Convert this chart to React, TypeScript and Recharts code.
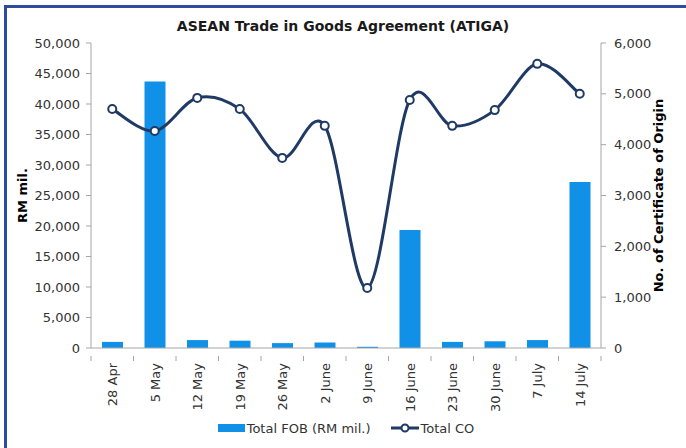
import React from 'react';
import { ComposedChart, Bar, Line, XAxis, YAxis, Legend } from 'recharts';

const weeks = ['28 Apr', '5 May', '12 May', '19 May', '26 May', '2 June', '9 June', '16 June', '23 June', '30 June', '7 July', '14 July'];
const totalFob = [1000, 43700, 1300, 1200, 800, 900, 200, 19350, 1000, 1100, 1300, 27200];
const totalCo = [4700, 4270, 4920, 4700, 3740, 4370, 1180, 4880, 4370, 4680, 5590, 5000];
const leftTicks = [0, 5000, 10000, 15000, 20000, 25000, 30000, 35000, 40000, 45000, 50000];
const rightTicks = [0, 1000, 2000, 3000, 4000, 5000, 6000];

const data = weeks.map((week, i) => ({ week, fob: totalFob[i], co: totalCo[i] }));

const BAR = '#1190e8';
const NAVY = '#1f3a64';
const AXIS = '#a6a6a6';
const TEXT = '#333333';
const FONT = '"DejaVu Sans", sans-serif';

const W = 686;
const H = 448;
const MARGIN = { top: 43, right: 25, left: 31, bottom: 8 };
const Y_W = 60;
const PLOT_W = W - MARGIN.left - MARGIN.right - 2 * Y_W;
const BAND = PLOT_W / weeks.length;

// excel style smoothing: catmull-rom as bezier segments
const excelSmooth = (context: any) => {
  let pts: number[][] = [];
  return {
    areaStart() {},
    areaEnd() {},
    lineStart() {
      pts = [];
    },
    point(x: number, y: number) {
      pts.push([+x, +y]);
    },
    lineEnd() {
      if (!pts.length) return;
      context.moveTo(pts[0][0], pts[0][1]);
      for (let i = 0; i < pts.length - 1; i++) {
        const p0 = pts[i - 1] || pts[i];
        const p1 = pts[i];
        const p2 = pts[i + 1];
        const p3 = pts[i + 2] || pts[i + 1];
        context.bezierCurveTo(
          p1[0] + (p2[0] - p0[0]) / 6,
          p1[1] + (p2[1] - p0[1]) / 6,
          p2[0] - (p3[0] - p1[0]) / 6,
          p2[1] - (p3[1] - p1[1]) / 6,
          p2[0],
          p2[1]
        );
      }
    },
  };
};

const WeekTick = ({ x, y, payload, index }: any) => {
  const left = x - BAND / 2;
  return (
    <g>
      <line x1={left} y1={y} x2={left} y2={y + 5} stroke={AXIS} />
      {index === weeks.length - 1 && (
        <line x1={x + BAND / 2} y1={y} x2={x + BAND / 2} y2={y + 5} stroke={AXIS} />
      )}
      <text
        x={0}
        y={0}
        transform={`translate(${x + 5},${y + 7}) rotate(-90)`}
        textAnchor="end"
        fontSize={13}
        fill={TEXT}
        fontFamily={FONT}
      >
        {payload.value}
      </text>
    </g>
  );
};

const ChartLegend = () => (
  <div
    style={{
      display: 'flex',
      justifyContent: 'center',
      alignItems: 'center',
      height: 24,
      fontFamily: FONT,
      fontSize: 13,
      color: TEXT,
    }}
  >
    <span style={{ display: 'inline-block', width: 27, height: 8, background: BAR, marginRight: 2 }} />
    <span style={{ marginRight: 20 }}>Total FOB (RM mil.)</span>
    <svg width={28} height={10} style={{ marginRight: 2 }}>
      <line x1={0} y1={5} x2={28} y2={5} stroke={NAVY} strokeWidth={3} />
      <circle cx={14} cy={5} r={3.5} fill="#fff" stroke={NAVY} strokeWidth={2} />
    </svg>
    <span>Total CO</span>
  </div>
);

const fmt = (v: number) => v.toLocaleString('en-US');

const App: React.FC = () => {
  return (
    <div style={{ position: 'absolute', left: 0, top: 0, width: W, height: H, overflow: 'hidden', background: '#fff' }}>
      <div
        style={{
          position: 'absolute',
          left: 4,
          top: 5,
          width: W + 10,
          height: H - 7,
          borderLeft: '3px solid #2f4b9b',
          borderTop: '3px solid #2f4b9b',
          borderBottom: '2px solid #2f4b9b',
        }}
      />
      <div
        style={{
          position: 'absolute',
          left: 0,
          top: 18,
          width: W,
          textAlign: 'center',
          fontFamily: FONT,
          fontWeight: 'bold',
          fontSize: 14,
          color: '#1a1a1a',
        }}
      >
        ASEAN Trade in Goods Agreement (ATIGA)
      </div>
      <div style={{ position: 'absolute', left: 0, top: 0 }}>
        <ComposedChart width={W} height={H} data={data} margin={MARGIN}>
          <XAxis
            dataKey="week"
            height={68}
            interval={0}
            tick={<WeekTick />}
            tickLine={false}
            axisLine={{ stroke: AXIS }}
          />
          <YAxis
            yAxisId="left"
            width={Y_W}
            domain={[0, 50000]}
            ticks={leftTicks}
            tickFormatter={fmt}
            tick={{ fontSize: 13, fill: TEXT, fontFamily: FONT }}
            tickSize={5}
            tickMargin={6}
            axisLine={{ stroke: AXIS }}
            tickLine={{ stroke: AXIS }}
            label={{
              value: 'RM mil.',
              angle: -90,
              position: 'insideLeft',
              offset: -9,
              style: { fontSize: 13, fontWeight: 'bold', fill: '#000', fontFamily: FONT, textAnchor: 'middle' },
            }}
          />
          <YAxis
            yAxisId="right"
            orientation="right"
            width={Y_W}
            domain={[0, 6000]}
            ticks={rightTicks}
            tickFormatter={fmt}
            tick={{ fontSize: 13, fill: TEXT, fontFamily: FONT }}
            tickSize={5}
            tickMargin={8}
            axisLine={{ stroke: AXIS }}
            tickLine={{ stroke: AXIS }}
            label={{
              value: 'No. of Certificate of Origin',
              angle: -90,
              position: 'insideRight',
              offset: 3,
              style: { fontSize: 13, fontWeight: 'bold', fill: '#000', fontFamily: FONT, textAnchor: 'middle' },
            }}
          />
          <Legend verticalAlign="bottom" height={24} content={<ChartLegend />} />
          <Bar yAxisId="left" dataKey="fob" name="Total FOB (RM mil.)" fill={BAR} barSize={21} isAnimationActive={false} />
          <Line
            yAxisId="right"
            dataKey="co"
            name="Total CO"
            type={excelSmooth as any}
            stroke={NAVY}
            strokeWidth={3}
            dot={{ r: 4, fill: '#fff', stroke: NAVY, strokeWidth: 2 }}
            isAnimationActive={false}
          />
        </ComposedChart>
      </div>
    </div>
  );
};

export default App;
